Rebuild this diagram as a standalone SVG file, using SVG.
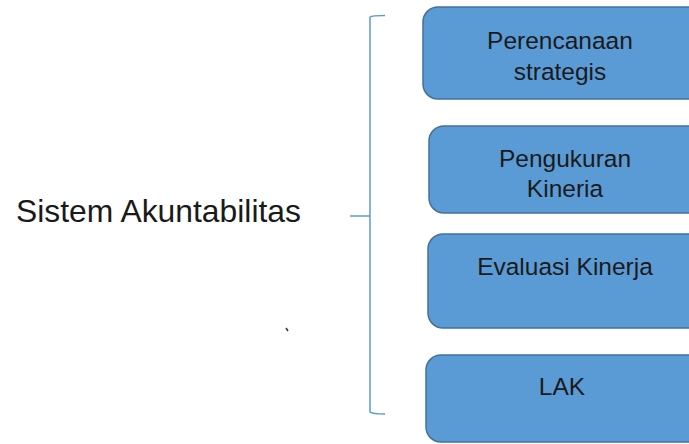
<svg xmlns="http://www.w3.org/2000/svg" width="689" height="444" viewBox="0 0 689 444">
<style>
.box{fill:#5b9bd5;stroke:#41719c;stroke-width:1.5}
.bt{font-family:"Liberation Sans",Arial,sans-serif;font-size:24.5px;fill:#1a1a1a;text-anchor:middle}
.main{font-family:"Liberation Sans",Arial,sans-serif;font-size:30.5px;fill:#1a1a1a}
.br{fill:none;stroke:#5b9bd5;stroke-width:1.5}
</style>
<rect width="689" height="444" fill="#ffffff"/>
<g id="label"><text class="main" x="16" y="222" textLength="285" lengthAdjust="spacingAndGlyphs">Sistem Akuntabilitas</text></g>
<g id="connectors">
<path class="br" d="M385,15.5 Q372,15.5 370,17 L370,412 Q372,414 385,414"/>
<path class="br" d="M350,216 L370,216"/>
</g>
<g id="mark"><line x1="286" y1="328" x2="288" y2="331" stroke="#333" stroke-width="1.5"/></g>
<g id="n1"><rect class="box" x="423" y="7" width="280" height="92" rx="15"/><text class="bt" x="560" y="49">Perencanaan</text><text class="bt" x="560" y="80">strategis</text></g>
<g id="n2"><rect class="box" x="429" y="126" width="280" height="87" rx="15"/><text class="bt" x="565" y="167">Pengukuran</text><text class="bt" x="565" y="197">Kineria</text></g>
<g id="n3"><rect class="box" x="428" y="234" width="280" height="94" rx="15"/><text class="bt" x="565" y="275">Evaluasi Kinerja</text></g>
<g id="n4"><rect class="box" x="426" y="355" width="280" height="87" rx="15"/><text class="bt" x="562" y="395">LAK</text></g>
</svg>
